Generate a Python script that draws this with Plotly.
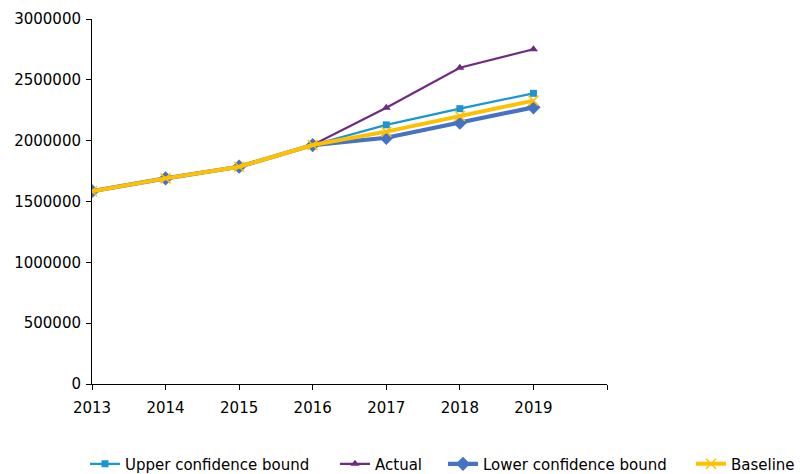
import plotly.graph_objects as go

years = [2013, 2014, 2015, 2016, 2017, 2018, 2019]
upper = [1585000, 1690000, 1786000, 1964000, 2130000, 2263000, 2389000]
actual = [1585000, 1690000, 1786000, 1964000, 2271000, 2600000, 2751000]
lower = [1585000, 1690000, 1786000, 1964000, 2024000, 2148000, 2274000]
baseline = [1585000, 1690000, 1786000, 1964000, 2074000, 2203000, 2329000]

x_ticks = [2013, 2014, 2015, 2016, 2017, 2018, 2019, 2020]
x_labels = ["2013", "2014", "2015", "2016", "2017", "2018", "2019", ""]
y_ticks = [0, 500000, 1000000, 1500000, 2000000, 2500000, 3000000]

fig = go.Figure()
fig.add_trace(go.Scatter(x=years, y=upper, name="Upper confidence bound",
                         mode="lines+markers", legend="legend",
                         line=dict(color="#1a96d8", width=2.2),
                         marker=dict(symbol="square", size=7, color="#1a96d8")))
fig.add_trace(go.Scatter(x=years, y=actual, name="Actual",
                         mode="lines+markers", legend="legend2",
                         line=dict(color="#6e2b80", width=2.2),
                         marker=dict(symbol="triangle-up", size=8, color="#6e2b80")))
fig.add_trace(go.Scatter(x=years, y=lower, name="Lower confidence bound",
                         mode="lines+markers", legend="legend3",
                         line=dict(color="#4472c4", width=4.2),
                         marker=dict(symbol="diamond", size=11, color="#4472c4")))
fig.add_trace(go.Scatter(x=years, y=baseline, name="Baseline",
                         mode="lines+markers", legend="legend4",
                         line=dict(color="#ffc000", width=4),
                         marker=dict(symbol="x-thin", size=10,
                                     line=dict(color="#ffc000", width=1.5))))


def legend_at(px):
    # one single-entry legend per series, laid out in a row under the axis
    return dict(orientation="h", xref="container", x=px / 801, xanchor="left",
                yref="container", y=0.021, yanchor="middle",
                font=dict(size=15), itemwidth=30, bgcolor="rgba(0,0,0,0)")


fig.update_layout(
    width=801, height=474,
    margin=dict(l=92, r=194, t=19, b=90, autoexpand=False),
    paper_bgcolor="white", plot_bgcolor="white",
    font=dict(family="DejaVu Sans", size=15, color="black"),
    showlegend=True,
    legend=legend_at(85),
    legend2=legend_at(335),
    legend3=legend_at(443),
    legend4=legend_at(691),
    xaxis=dict(range=[2013, 2020], tickmode="array", tickvals=x_ticks, ticktext=x_labels,
               showgrid=False, zeroline=False, showline=True, linecolor="black", linewidth=1,
               ticks="outside", ticklen=5, tickcolor="black", ticklabelstandoff=5),
    yaxis=dict(range=[0, 3000000], tickmode="array", tickvals=y_ticks,
               tickformat="d", showgrid=False, zeroline=False, showline=True,
               linecolor="black", linewidth=1, ticks="outside", ticklen=5,
               tickcolor="black", ticklabelstandoff=2),
)

fig.write_html("out.html")
